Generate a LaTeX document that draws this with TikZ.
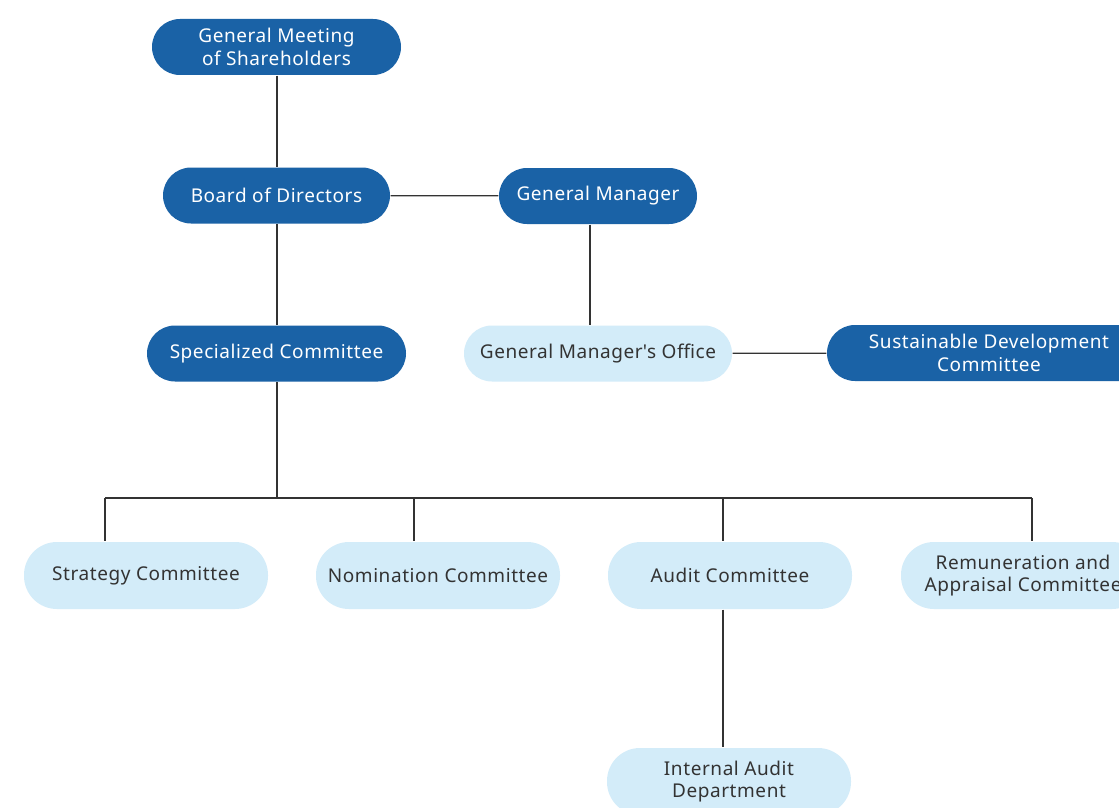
\documentclass[tikz,border=0pt]{standalone}
\usepackage{fontspec}
\setmainfont{Noto Sans}[LetterSpace=3]
\definecolor{darkblue}{HTML}{1A62A6}
\definecolor{lightblue}{HTML}{D3ECF9}
\definecolor{ink}{HTML}{333333}

\begin{document}
\begin{tikzpicture}
   [
      x=1pt, y=-1pt,
      line width=1.3pt,
      darkitem/.style={rectangle, fill=darkblue, text=white, inner sep=0pt,
      minimum height=56pt, rounded corners=28pt, align=center,
      font=\fontsize{19}{22.5}\selectfont},
      lightitem/.style={rectangle, fill=lightblue, text=ink, inner sep=0pt,
      minimum height=67pt, rounded corners=33pt, align=center,
      font=\fontsize{19}{22.5}\selectfont},
      link/.style={draw=ink}
   ]
   \clip (0,0) rectangle (1119,808);
   \fill[white] (0,0) rectangle (1119,808);

   \node[darkitem, minimum width=249pt] (meeting) at (276.5,47)
      {General Meeting\\of Shareholders};
   \node[darkitem, minimum width=227pt] (board) at (276.5,195.5) {Board of Directors};
   \node[darkitem, minimum width=198pt] (manager) at (598,196) {General Manager};
   \node[darkitem, minimum width=259pt] (special) at (276.5,353.5)
      {Specialized Committee};
   \node[lightitem, minimum width=268pt, minimum height=56pt,
      rounded corners=28pt] (office) at (598,353.5)
      {General Manager\textquotesingle s Office};
   \node[darkitem, minimum width=324pt] (sustain) at (989,353)
      {Sustainable Development\\Committee};

   \node[lightitem, minimum width=244pt] (strategy) at (146,575.5)
      {Strategy Committee};
   \node[lightitem, minimum width=244pt] (nomination) at (438,575.5)
      {Nomination Committee};
   \node[lightitem, minimum width=244pt] (audit) at (730,575.5)
      {Audit Committee};
   \node[lightitem, minimum width=244pt] (remuneration) at (1023,575.5)
      {Remuneration and\\Appraisal Committee};
   \node[lightitem, minimum width=244pt] (internal) at (729,781.5)
      {Internal Audit\\Department};

   % connectors
   \coordinate (trunk) at (277,0);
   \draw[link] (trunk |- meeting.south) -- (trunk |- board.north);
   \draw[link] (board) -- (manager);
   \draw[link] (trunk |- board.south) -- (trunk |- special.north);
   \coordinate (managerdrop) at (590,195);
   \draw[link] (managerdrop |- manager.south) -- (managerdrop |- office.north);
   \draw[link] (office) -- (sustain);

   \coordinate (bus) at (277,498);
   \draw[link] (special.south -| bus) -- (bus);
   \coordinate (busleft) at (105,498);
   \coordinate (busright) at (1032,498);
   \draw[link] (busleft) -- (busright);
   \foreach \name/\x in {strategy/105,nomination/414,audit/723,remuneration/1032}
      \draw[link] (\x,498) -- (\x,0 |- \name.north);
   \coordinate (auditdrop) at (723,609);
   \draw[link] (auditdrop |- audit.south) -- (auditdrop |- internal.north);
\end{tikzpicture}
\end{document}
